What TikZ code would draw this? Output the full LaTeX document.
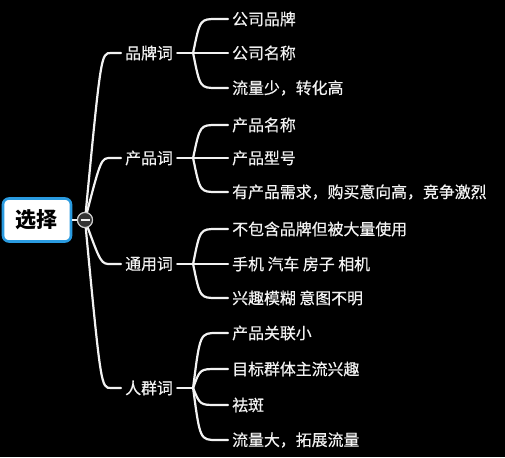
\documentclass[tikz,border=0pt]{standalone}
\usepackage{fontspec}
\usetikzlibrary{calc}
\setmainfont{Noto Sans CJK SC}
\newfontfamily\cjk[FakeBold=0.5]{Noto Sans CJK SC}
\newfontfamily\cjkroot{Noto Sans CJK SC}
\definecolor{bg}{HTML}{000000}
\definecolor{txt}{HTML}{F2F2F2}
\definecolor{selblue}{HTML}{2A9BE0}
\tikzset{
  br/.style={draw=txt, line width=2.2pt, line cap=round},
  lab/.style={anchor=west, inner sep=0pt, text=txt, font=\cjk\fontsize{15.9}{18}\selectfont},
  rootbox/.style={draw=selblue, line width=2.6pt, fill=white, rounded corners=6pt,
    minimum width=68pt, minimum height=43pt, inner sep=0pt,
    font=\cjkroot\bfseries\fontsize{21}{24}\selectfont, text=black},
  foldbtn/.style={circle, draw=txt!85!black, line width=1.1pt, fill=black!80, minimum size=15pt, inner sep=0pt}
}
\begin{document}
\begin{tikzpicture}[x=1pt,y=-1pt]
\fill[bg] (0,0) rectangle (505,457);
\useasboundingbox (0,0) rectangle (505,457);

% root
\node[rootbox] (root) at (37,220) {选择};
\node[foldbtn] (fold) at (85,220) {};

% level 1
\node[lab] (b1) at (125,53) {品牌词};
\node[lab] (b2) at (125,158) {产品词};
\node[lab] (b3) at (125,264) {通用词};
\node[lab] (b4) at (125,388) {人群词};

% level 2
\node[lab] (c11) at (232,19) {公司品牌};
\node[lab] (c12) at (232,53) {公司名称};
\node[lab] (c13) at (232,88) {流量少，转化高};

\node[lab] (c21) at (232,125) {产品名称};
\node[lab] (c22) at (232,158) {产品型号};
\node[lab] (c23) at (232,192) {有产品需求，购买意向高，竞争激烈};

\node[lab] (c31) at (232,229) {不包含品牌但被大量使用};
\node[lab] (c32) at (232,264) {手机 汽车 房子 相机};
\node[lab] (c33) at (232,298) {兴趣模糊 意图不明};

\node[lab] (c41) at (232,333) {产品关联小};
\node[lab] (c42) at (232,369) {目标群体主流兴趣};
\node[lab] (c43) at (232,405) {祛斑};
\node[lab] (c44) at (232,440) {流量大，拓展流量};

% root to fold button
\draw[draw=txt, line width=1.6pt] (root.east) -- (fold.west);

% level-1 connectors
\foreach \b in {b1,b2,b3,b4}{
  \draw[br] (fold.center) .. controls ($(\b.west)+(-24,0)$) .. ($(\b.west)+(-14,0)$) -- ($(\b.west)+(-4,0)$);
}
\node[foldbtn] (fold2) at (fold) {};
\draw[draw=txt, line width=1.4pt] ($(fold2.center)+(-4.5,0)$) -- ($(fold2.center)+(4.5,0)$);

% level-2 connectors
\coordinate (j1) at ($(b1.east)+(20,0)$);
\coordinate (j2) at ($(b2.east)+(20,0)$);
\coordinate (j3) at ($(b3.east)+(20,0)$);
\coordinate (j4) at ($(b4.east)+(20,0)$);
\foreach \b/\j in {b1/j1,b2/j2,b3/j3,b4/j4}{
  \draw[br] ($(\b.east)+(4,0)$) -- (\j);
}
\foreach \j/\c in {j1/c11,j1/c12,j1/c13,j2/c21,j2/c22,j2/c23,j3/c31,j3/c32,j3/c33,j4/c41,j4/c42,j4/c43,j4/c44}{
  \draw[br] (\j) .. controls ($(\c.west)+(-32,0)$) .. ($(\c.west)+(-15,0)$) -- ($(\c.west)+(-4,0)$);
}
\end{tikzpicture}
\end{document}
